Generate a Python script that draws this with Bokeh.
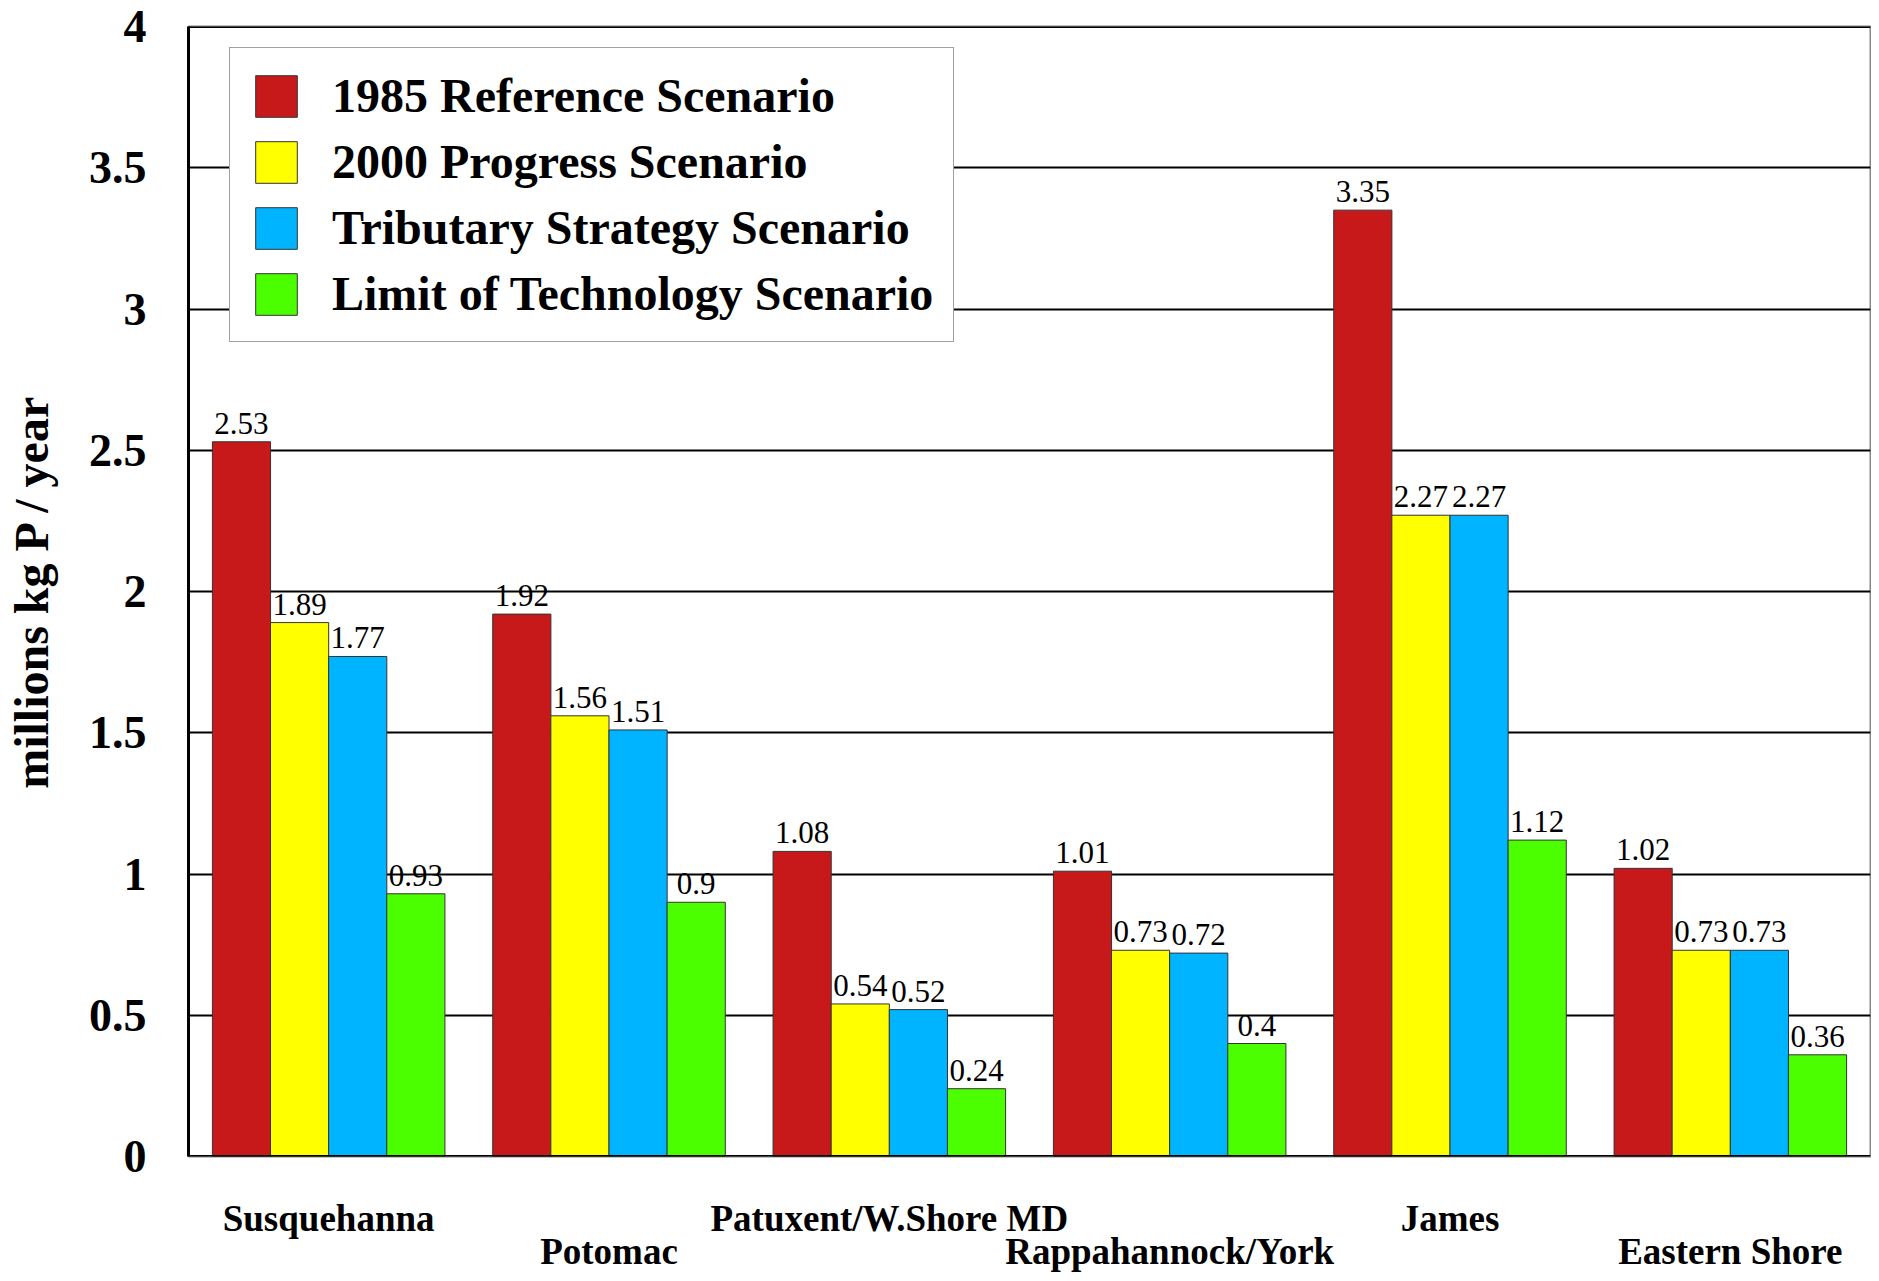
from bokeh.plotting import figure
from bokeh.models import (ColumnDataSource, Range1d, FixedTicker,
                          Legend, LegendItem, Span, LabelSet, LinearAxis)
from bokeh.transform import dodge
from bokeh.core.properties import value
from bokeh.embed import file_html
from bokeh.resources import INLINE

# ---------------- data ----------------
basins = ["Susquehanna", "Potomac", "Patuxent/W.Shore MD",
          "Rappahannock/York", "James", "Eastern Shore"]
scenarios = ["1985 Reference Scenario", "2000 Progress Scenario",
             "Tributary Strategy Scenario", "Limit of Technology Scenario"]
ref_1985 = [2.53, 1.92, 1.08, 1.01, 3.35, 1.02]
progress_2000 = [1.89, 1.56, 0.54, 0.73, 2.27, 0.73]
tributary_strategy = [1.77, 1.51, 0.52, 0.72, 2.27, 0.73]
limit_of_technology = [0.93, 0.90, 0.24, 0.40, 1.12, 0.36]
y_ticks = [0, 0.5, 1, 1.5, 2, 2.5, 3, 3.5, 4]
y_tick_labels = ["0", "0.5", "1", "1.5", "2", "2.5", "3", "3.5", "4"]
y_axis_title = "millions kg P / year"

# ---------------- style ----------------
colors = ["#C8191A", "#FFFF00", "#00B4FF", "#4CFF00"]
offsets = [-0.311, -0.1037, 0.1037, 0.311]
bar_w = 0.2075
serif = "Liberation Serif"

series = [ref_1985, progress_2000, tributary_strategy, limit_of_technology]
# category slot centres (one unit per basin)
centers = [i + 0.5 for i in range(len(basins))]

p = figure(width=1871, height=1275,
           x_range=Range1d(0, len(basins)),
           y_range=Range1d(0, 4),
           output_backend="svg", toolbar_location=None,
           min_border_left=188, min_border_right=1,
           min_border_top=26, min_border_bottom=119)

items = []
for name, vals, col, off in zip(scenarios, series, colors, offsets):
    src = ColumnDataSource(dict(pos=centers, basin=basins, val=vals,
                                lbl=[f"{v:g}" for v in vals]))
    r = p.vbar(x=dodge("pos", off), top="val", width=bar_w,
               bottom=0, source=src, fill_color=col, line_color="#333333",
               line_width=1)
    items.append(LegendItem(label=name, renderers=[r]))
    labels = LabelSet(x=dodge("pos", off), y="val", text="lbl",
                      source=src, text_align="center", text_baseline="alphabetic",
                      y_offset=8, text_font=value(serif),
                      text_font_size="31px", text_color="black")
    p.add_layout(labels)

# grid
p.ygrid.ticker = FixedTicker(ticks=y_ticks[1:-1])
p.ygrid.grid_line_color = "black"
p.ygrid.grid_line_width = 2
p.xgrid.grid_line_color = None
p.add_layout(Span(location=4, dimension="width", line_color="black", line_width=3))

p.outline_line_color = "#888888"
p.outline_line_width = 2
p.background_fill_color = "white"
p.border_fill_color = "white"

# y axis
yax = p.yaxis[0]
yax.ticker = FixedTicker(ticks=y_ticks)
yax.major_label_overrides = {t: s for t, s in zip(y_ticks, y_tick_labels)}
yax.major_label_text_font = serif
yax.major_label_text_font_style = "bold"
yax.major_label_text_font_size = "46px"
yax.major_label_text_color = "black"
yax.major_tick_out = 0
yax.major_tick_in = 0
yax.minor_tick_out = 0
yax.minor_tick_in = 0
yax.major_label_standoff = 42
yax.axis_line_width = 3
yax.axis_line_color = "black"
yax.axis_label = y_axis_title
yax.axis_label_text_font = serif
yax.axis_label_text_font_style = "bold"
yax.axis_label_text_font_size = "48px"
yax.axis_label_text_color = "black"
yax.axis_label_standoff = 28

# default x axis hidden; baseline drawn as a span
p.xaxis[0].visible = False
p.add_layout(Span(location=0, dimension="width", line_color="black", line_width=3))

# staggered category labels on two label axes at the category centres
for parity, standoff in ((0, 41), (1, -11)):
    ticks = centers[parity::2]
    names = basins[parity::2]
    ax = LinearAxis(ticker=FixedTicker(ticks=ticks),
                    major_label_overrides={t: n for t, n in zip(ticks, names)})
    ax.major_label_text_font = serif
    ax.major_label_text_font_style = "bold"
    ax.major_label_text_font_size = "37px"
    ax.major_label_text_color = "black"
    ax.major_tick_out = 0
    ax.major_tick_in = 0
    ax.minor_tick_out = 0
    ax.minor_tick_in = 0
    ax.major_label_standoff = standoff
    ax.axis_line_color = None
    p.add_layout(ax, "below")

legend = Legend(items=items, location=(41, 814),
                label_text_font=serif, label_text_font_style="bold",
                label_text_font_size="48px", label_text_color="black",
                glyph_width=52, glyph_height=52, label_standoff=30,
                padding=20, spacing=11, margin=0,
                border_line_color="#444444", border_line_width=1,
                background_fill_color="white", background_fill_alpha=1)
p.add_layout(legend, "center")

open("out.html", "w").write(file_html(p, INLINE))
